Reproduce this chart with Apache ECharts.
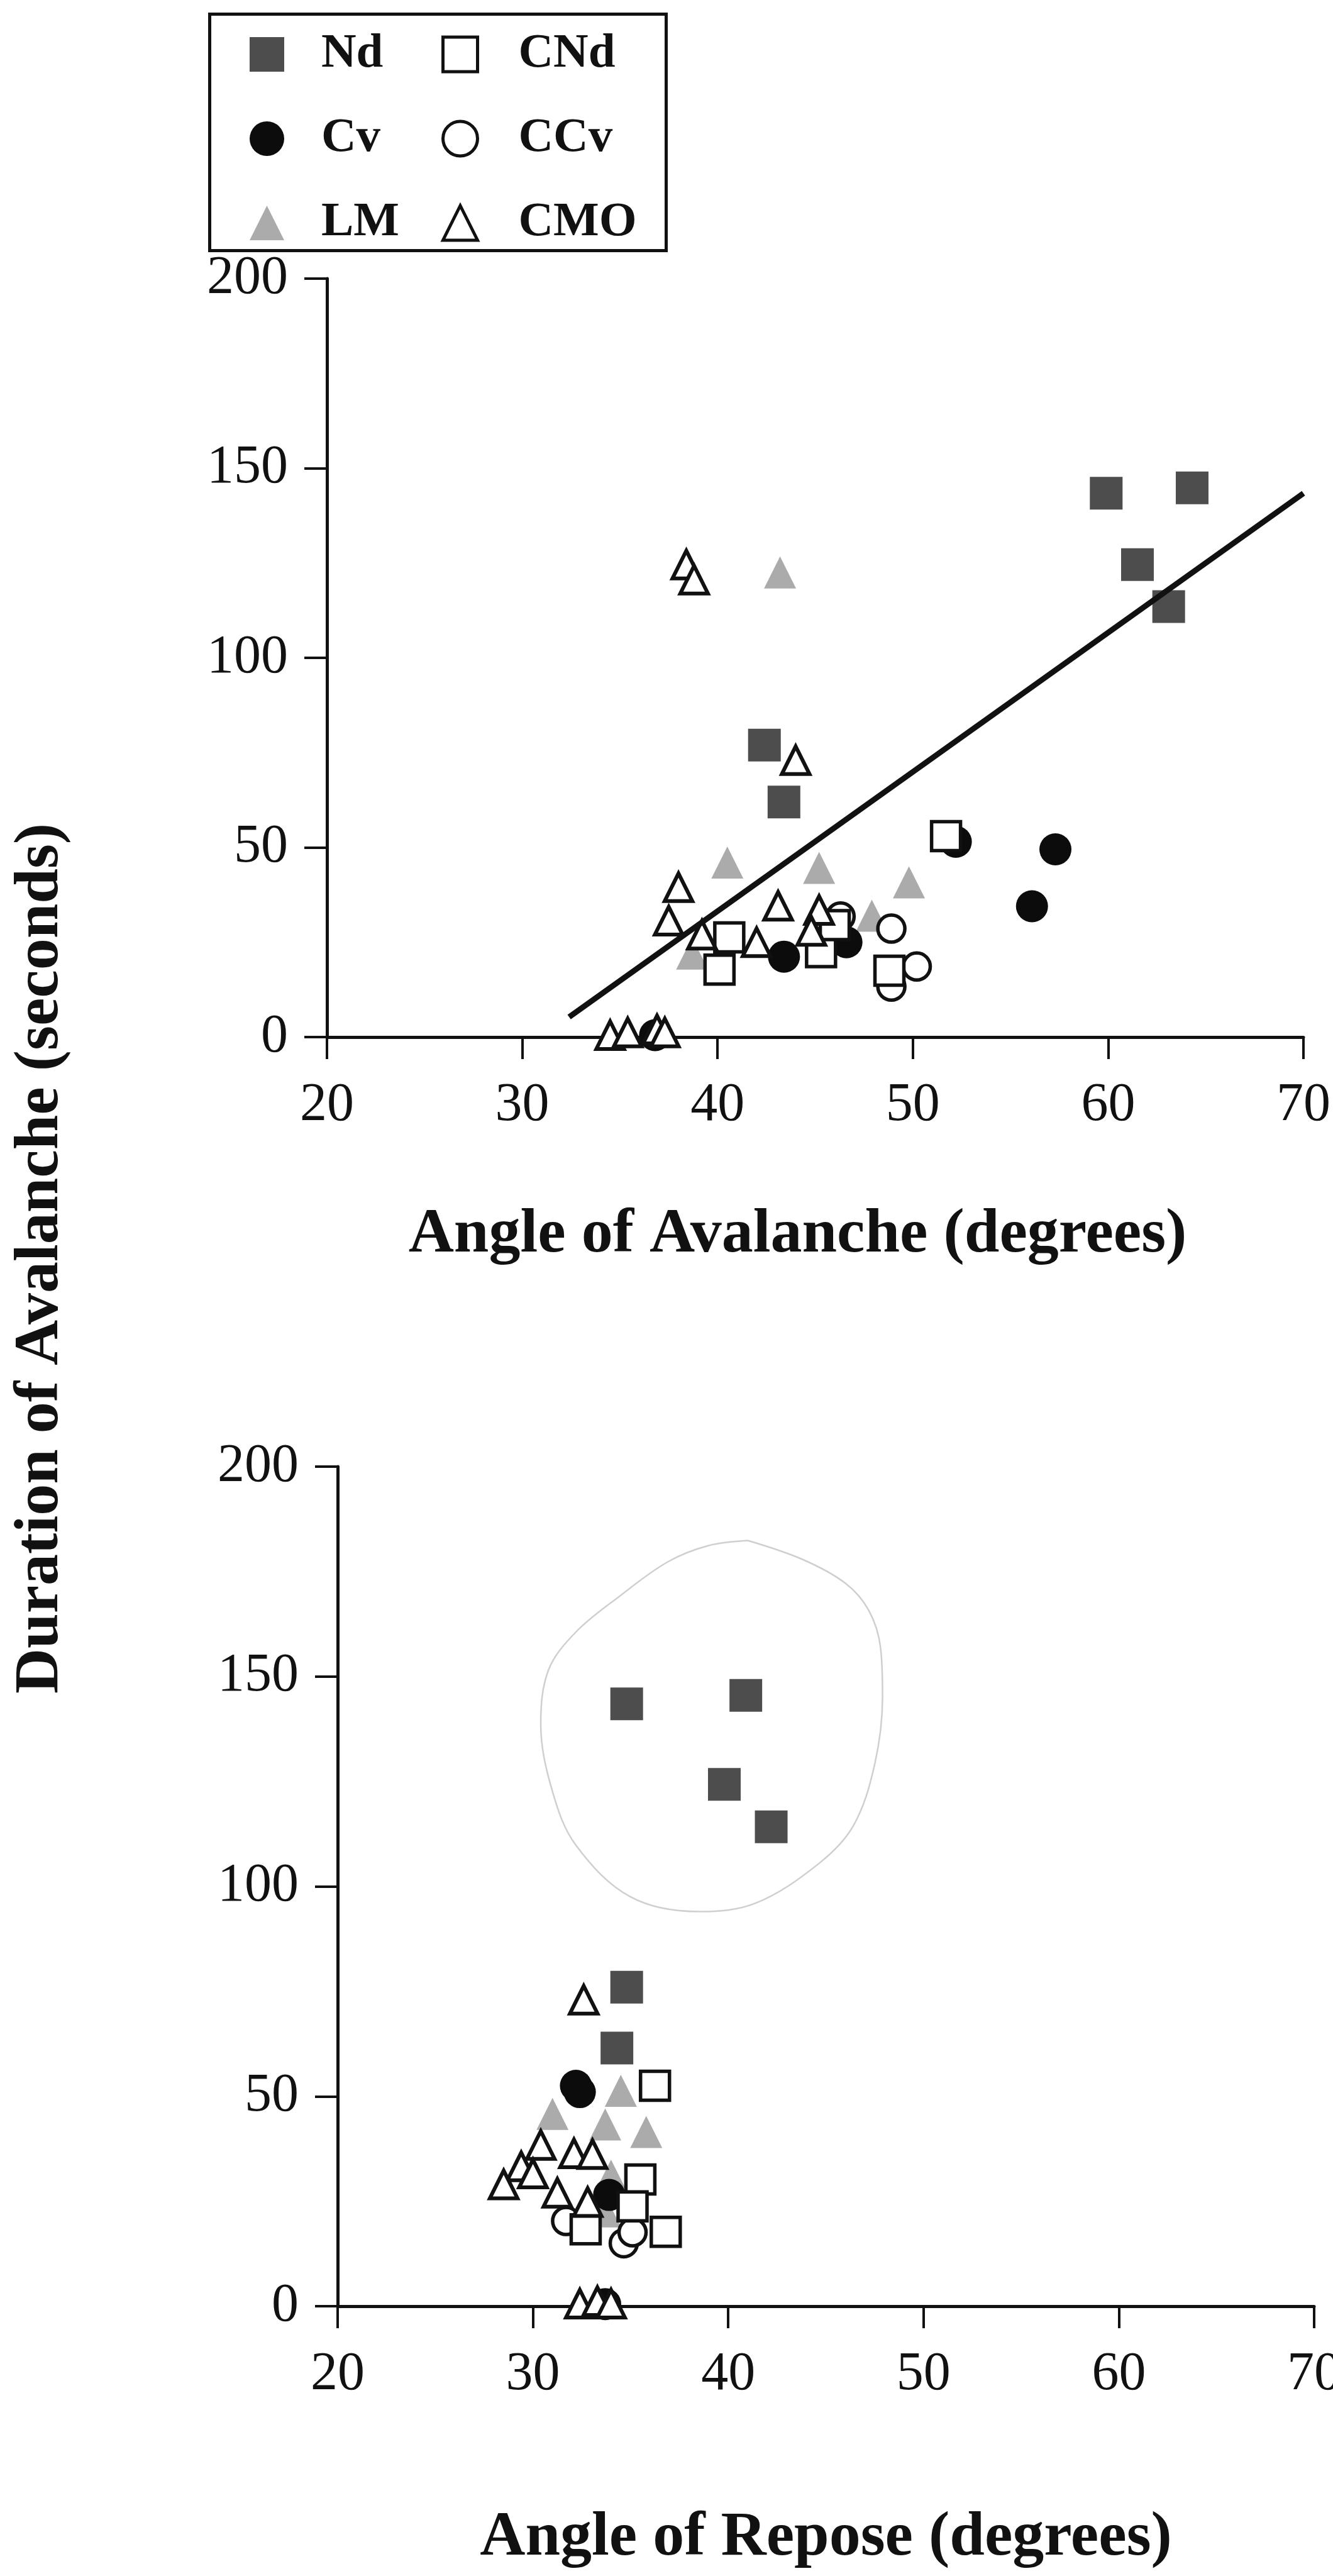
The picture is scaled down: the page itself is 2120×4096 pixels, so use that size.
<!DOCTYPE html>
<html>
<head>
<meta charset="utf-8">
<script src="https://cdn.jsdelivr.net/npm/echarts@6/dist/echarts.min.js"></script>
<style>
  html, body { margin: 0; padding: 0; background: #ffffff; }
  #chart { width: 2120px; height: 4096px; }
</style>
</head>
<body>
<div id="chart"></div>
<script>
// Axis ranges and tick steps (angle in degrees, duration in seconds)
const angleRange = [20, 70];
const angleStep = 10;
const durationRange = [0, 200];
const durationStep = 50;

// Group names, in legend order
const leftGroups = ['Nd', 'Cv', 'LM'];
const rightGroups = ['CNd', 'CCv', 'CMO'];

// Upper panel: [angle of avalanche, duration of avalanche]
const ndAvalanche = [[59.9, 143.4], [64.3, 144.8], [61.5, 124.6], [63.1, 113.5], [42.4, 77.0], [43.4, 62.0]];
const cndAvalanche = [[51.7, 53.0], [40.6, 26.3], [40.1, 17.8], [45.3, 22.4], [48.8, 17.5], [46.0, 29.5]];
const cvAvalanche = [[57.3, 49.5], [56.1, 34.5], [52.2, 51.5], [43.4, 21.2], [46.6, 25.0], [36.8, 0.5]];
const ccvAvalanche = [[48.9, 28.6], [50.2, 18.6], [48.9, 13.3], [46.3, 31.8]];
const lmAvalanche = [[43.2, 122.5], [40.5, 46.0], [45.2, 44.6], [49.8, 40.8], [47.9, 32.0], [38.7, 22.0]];
const cmoAvalanche = [[38.4, 124.6], [38.8, 120.6], [44.0, 73.0], [38.0, 39.5], [37.5, 30.7], [43.1, 34.6],
  [45.2, 33.5], [44.8, 28.0], [39.2, 27.0], [42.0, 25.0], [34.5, 0.5], [35.4, 1.2], [36.9, 2.0], [37.3, 1.2]];
// Least-squares fit drawn across the upper panel
const fitLine = [[32.4, 5.3], [70, 143.4]];

// Lower panel: [angle of repose, duration of avalanche]
const ndRepose = [[34.8, 143.5], [40.9, 145.5], [39.8, 124.3], [42.2, 114.2], [34.8, 76.0], [34.3, 61.5]];
const cndRepose = [[36.25, 52.5], [35.5, 30.2], [35.1, 23.8], [36.8, 17.7], [32.7, 18.3]];
const cvRepose = [[32.2, 52.5], [32.4, 51.0], [33.9, 26.5], [33.7, 0.5]];
const ccvRepose = [[31.7, 20.3], [34.65, 15.0], [35.1, 17.6]];
const lmRepose = [[31.0, 45.8], [34.5, 51.3], [33.7, 43.3], [35.8, 41.5], [34.0, 31.1], [33.7, 22.6]];
const cmoRepose = [[32.6, 73.0], [30.4, 38.4], [29.4, 33.3], [28.5, 29.0], [32.1, 36.4], [33.05, 36.2],
  [30.0, 31.6], [31.25, 27.0], [32.8, 24.8], [32.4, 0.6], [33.3, 1.2], [34.0, 0.6]];
// Hand-drawn outline around the four long-duration Nd runs
const ndOutline = [[41.0, 182.4], [43.8, 177.9], [46.0, 172.2], [47.2, 165.7], [47.8, 156.8], [47.9, 145.2],
  [47.5, 129.1], [46.4, 114.4], [44.6, 105.3], [41.4, 96.0], [38.5, 94.0], [35.0, 97.5], [32.2, 109.8],
  [31.0, 122.6], [30.4, 138.7], [30.8, 151.6], [32.2, 160.6], [34.4, 169.0], [36.9, 177.3], [39.0, 181.2],
  [41.0, 182.4]];

const FONT = '"Liberation Serif", "Times New Roman", Times, serif';
const INK = '#111111';

// Marker styles per group
const markerStyle = {
  Nd:  { symbol: 'rect', symbolSize: 52, itemStyle: { color: '#4d4d4d' } },
  CNd: { symbol: 'rect', symbolSize: 46, itemStyle: { color: '#ffffff', borderColor: INK, borderWidth: 5.5 } },
  Cv:  { symbol: 'circle', symbolSize: 51, itemStyle: { color: '#0c0c0c' } },
  CCv: { symbol: 'circle', symbolSize: 43, itemStyle: { color: '#ffffff', borderColor: INK, borderWidth: 5.5 } },
  LM:  { symbol: 'triangle', symbolSize: 51, itemStyle: { color: '#ababab' } },
  CMO: { symbol: 'triangle', symbolSize: 44, itemStyle: { color: '#ffffff', borderColor: INK, borderWidth: 6 } }
};

function scatter(name, data, panel) {
  const s = markerStyle[name];
  return {
    type: 'scatter', name: name, data: data,
    xAxisIndex: panel, yAxisIndex: panel,
    symbol: s.symbol, symbolSize: s.symbolSize,
    itemStyle: Object.assign({ opacity: 1 }, s.itemStyle),
    emphasis: { disabled: true }, silent: true
  };
}

function legendItem(name) {
  const s = markerStyle[name];
  return { name: name, icon: s.symbol, itemStyle: Object.assign({}, s.itemStyle, s.itemStyle.borderWidth ? { borderWidth: 5 } : {}) };
}

function angleAxis(gridIndex, title, gap, shift) {
  return {
    type: 'value', gridIndex: gridIndex,
    min: angleRange[0], max: angleRange[1], interval: angleStep,
    name: title, nameLocation: 'middle', nameGap: gap,
    nameTextStyle: { fontFamily: FONT, fontWeight: 'bold', fontSize: 100, color: INK,
      verticalAlign: 'middle', padding: shift },
    axisLine: { show: true, onZero: false, lineStyle: { color: INK, width: 5 } },
    axisTick: { show: true, inside: false, length: 35, lineStyle: { color: INK, width: 4 } },
    axisLabel: { fontFamily: FONT, fontSize: 86, color: INK, margin: 66, showMinLabel: true, showMaxLabel: true, hideOverlap: false },
    splitLine: { show: false }
  };
}

function durationAxis(gridIndex) {
  return {
    type: 'value', gridIndex: gridIndex,
    min: durationRange[0], max: durationRange[1], interval: durationStep,
    axisLine: { show: true, onZero: false, lineStyle: { color: INK, width: 5 } },
    axisTick: { show: true, inside: false, length: 36, lineStyle: { color: INK, width: 4 } },
    axisLabel: { fontFamily: FONT, fontSize: 86, color: INK, margin: 62, showMinLabel: true, showMaxLabel: true, hideOverlap: false },
    splitLine: { show: false }
  };
}

const legendText = { fontFamily: FONT, fontWeight: 'bold', fontSize: 77, color: INK, lineHeight: 56 };

const chart = echarts.init(document.getElementById('chart'), null, { renderer: 'canvas' });
chart.setOption({
  animation: false,
  backgroundColor: '#ffffff',
  grid: [
    { left: 520, top: 443, width: 1553, height: 1206, containLabel: false, outerBoundsMode: 'none' },
    { left: 537, top: 2332, width: 1553, height: 1335, containLabel: false, outerBoundsMode: 'none' }
  ],
  xAxis: [
    angleAxis(0, 'Angle of Avalanche (degrees)', 315, [0, 56, 0, 0]),
    angleAxis(1, 'Angle of Repose (degrees)', 369, [0, 0, 0, 0])
  ],
  yAxis: [durationAxis(0), durationAxis(1)],
  legend: [
    {
      orient: 'vertical', left: 392, top: 43, itemWidth: 55, itemHeight: 55, itemGap: 57,
      selectedMode: false, data: leftGroups.map(legendItem),
      textStyle: Object.assign({ padding: [0, 0, 0, 54] }, legendText)
    },
    {
      orient: 'vertical', left: 697, top: 43, itemWidth: 55, itemHeight: 55, itemGap: 57,
      selectedMode: false, data: rightGroups.map(legendItem),
      textStyle: Object.assign({ padding: [0, 0, 0, 60] }, legendText)
    }
  ],
  graphic: [
    {
      type: 'rect', left: 331, top: 20, silent: true,
      shape: { width: 726, height: 376 },
      style: { fill: 'none', stroke: INK, lineWidth: 5 }
    },
    {
      type: 'text', x: 65, y: 2001, rotation: Math.PI / 2, silent: true,
      style: {
        text: 'Duration of Avalanche (seconds)',
        fontFamily: FONT, fontWeight: 'bold', fontSize: 100, fill: INK,
        align: 'center', verticalAlign: 'middle'
      }
    }
  ],
  series: [
    scatter('Nd', ndAvalanche, 0),
    scatter('LM', lmAvalanche, 0),
    scatter('Cv', cvAvalanche, 0),
    scatter('CCv', ccvAvalanche, 0),
    scatter('CNd', cndAvalanche, 0),
    scatter('CMO', cmoAvalanche, 0),
    {
      type: 'line', name: 'fit', data: fitLine, xAxisIndex: 0, yAxisIndex: 0,
      showSymbol: false, symbol: 'none', silent: true,
      lineStyle: { color: INK, width: 9, cap: 'butt' }, z: 5
    },
    {
      type: 'line', name: 'outline', data: ndOutline, xAxisIndex: 1, yAxisIndex: 1,
      showSymbol: false, symbol: 'none', silent: true, smooth: 0.35,
      lineStyle: { color: '#cfcfcf', width: 2.5 }
    },
    scatter('Nd', ndRepose, 1),
    scatter('LM', lmRepose, 1),
    scatter('Cv', cvRepose, 1),
    scatter('CCv', ccvRepose, 1),
    scatter('CNd', cndRepose, 1),
    scatter('CMO', cmoRepose, 1)
  ]
});
</script>
</body>
</html>
